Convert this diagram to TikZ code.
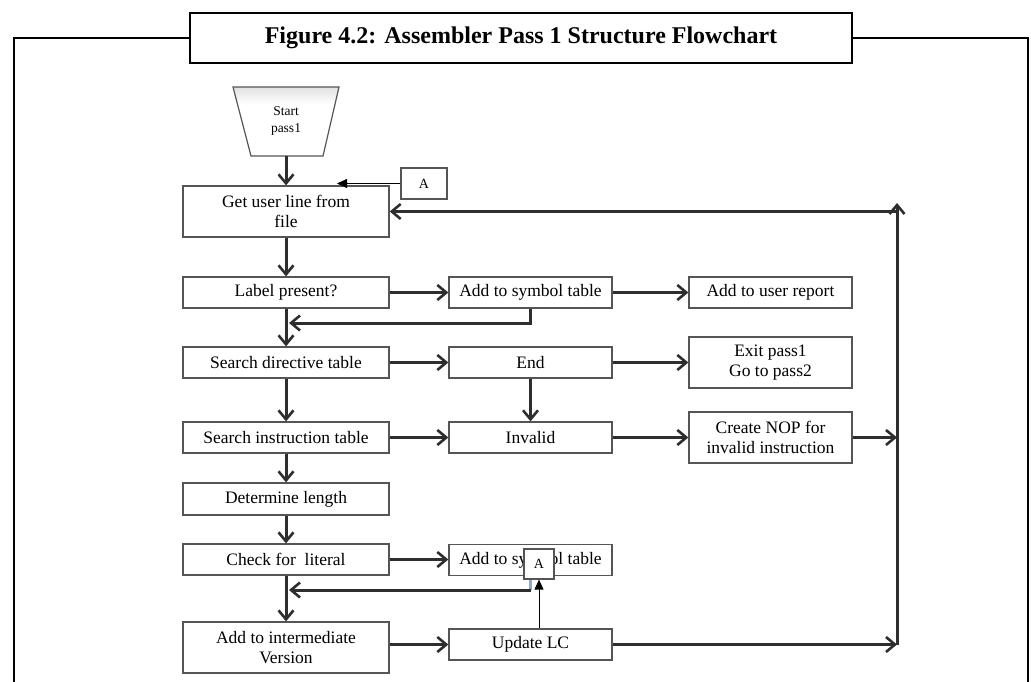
\documentclass[tikz,border=0pt]{standalone}
\usepackage{fontspec}
\setmainfont{Liberation Serif}
\usetikzlibrary{arrows.meta,calc,shapes.geometric}
\definecolor{boxline}{HTML}{555555}
\definecolor{arrowcol}{HTML}{2E2E2E}
\definecolor{tintblue}{HTML}{8FA9C8}
\tikzset{
  proc/.style={draw=boxline,line width=1.3pt,fill=white,rectangle,inner sep=1pt,
    minimum width=206pt,minimum height=31pt,align=center,font=\fontsize{17.5}{19.5}\selectfont},
  side/.style={proc,minimum width=163pt},
  conn/.style={draw=arrowcol,line width=3pt,-{Straight Barb[length=9pt,width=15pt,line width=2.6pt]}},
  thinarrow/.style={draw=black,line width=0.8pt,-{Triangle[length=10pt,width=9pt]}},
  abox/.style={draw=boxline,line width=1.1pt,fill=white,inner sep=0pt,font=\fontsize{14}{16}\selectfont}
}
\begin{document}
\begin{tikzpicture}[x=1pt,y=-1pt]
\useasboundingbox (0,0) rectangle (1031,682);
% outer frame and title
\draw[line width=2.8pt,black] (14,682) -- (14,38) -- (190,38);
\draw[line width=2.8pt,black] (852,38) -- (1028,38) -- (1028,682);
\node[draw=black,line width=2.8pt,minimum width=662pt,minimum height=50pt,inner sep=0pt,
  font=\bfseries\fontsize{24}{27}\selectfont] (title) at (521,38) {Figure 4.2: Assembler Pass 1 Structure Flowchart};
% start trapezoid
\shade[top color=black!12,bottom color=white] (233,87) -- (339,87) -- (335,104) -- (237,104) -- cycle;
\draw[boxline,line width=1.2pt] (233,87) -- (339,87) -- (323,156) -- (251,156) -- cycle;
\node[font=\fontsize{13.5}{17}\selectfont,align=center] (start) at (286,121) {Start\\pass1};
\coordinate (startb) at (286,156);
% main column
\node[proc,minimum height=51pt] (getuser) at (286,211.5) {Get user line from\\file};
\node[proc] (label) at (286,292.5) {Label present?};
\node[proc] (searchdir) at (286,362.5) {Search directive table};
\node[proc] (searchins) at (286,437.5) {Search instruction table};
\node[proc,minimum height=32pt] (determine) at (286,499) {Determine length};
\node[proc] (check) at (286,559.5) {Check for\ \ literal};
\node[proc,minimum height=51pt] (addint) at (286,647.5) {Add to intermediate\\Version};
% second column
\node[side] (addsym) at (530.5,292.5) {Add to symbol table};
\node[side] (end) at (530.5,362.5) {End};
\node[side] (invalid) at (530.5,437.5) {Invalid};
\node[side] (addsym2) at (530.5,560) {Add to symbol table};
\node[side] (update) at (530.5,644.5) {Update LC};
% third column
\node[side] (addrep) at (770.5,292.5) {Add to user report};
\node[side,minimum height=51pt] (exit) at (770.5,362.5) {Exit pass1\\Go to pass2};
\node[side,minimum height=51pt] (nop) at (770.5,437.5) {Create NOP for\\invalid instruction};
% A connectors
\node[abox,minimum width=46pt,minimum height=31pt] (atop) at (424,183.5) {A};
\coordinate (atarget) at (337,183.5);
\draw[thinarrow] (atop.west) -- (atarget);
% right bus
\coordinate (busnop) at (897,437.5);
\coordinate (busup) at (897,644.5);
\coordinate (bustop) at (897,203);
\coordinate (busget) at (897,211.5);
% main column arrows
\draw[conn] (startb) -- (getuser.north);
\draw[conn] (getuser) -- (label);
\draw[conn] (label) -- (searchdir);
\draw[conn] (searchdir) -- (searchins);
\draw[conn] (searchins) -- (determine);
\draw[conn] (determine) -- (check);
\draw[conn] (check) -- (addint);
% horizontal arrows
\draw[conn] (label) -- (addsym);
\draw[conn] (addsym) -- (addrep);
\draw[conn] (searchdir) -- (end);
\draw[conn] (end) -- (exit);
\draw[conn] (end) -- (invalid);
\draw[conn] (searchins) -- (invalid);
\draw[conn] (invalid) -- (nop);
\draw[conn] (nop) -- (busnop);
\draw[conn] (check.east) -- (check.east -| addsym2.west);
\draw[conn] (addint.east |- update) -- (update.west);
\draw[conn] (update) -- (busup);
% return arrows
\coordinate (ret1) at (286,323);
\draw[conn] (addsym.south) -- (addsym.south |- ret1) -- ([xshift=3pt]ret1);
\coordinate (ret2) at (286,590);
\draw[tintblue,line width=3pt] (addsym2.south) -- (addsym2.south |- ret2);
\draw[conn] (addsym2.south |- ret2) -- ([xshift=3pt]ret2);
% bus up and back
\draw[conn] (busup) -- (bustop);
\draw[conn] (busget) -- (getuser.east);
% lower A
\node[abox,minimum width=30pt,minimum height=30pt] (alow) at (539,564) {A};
\draw[thinarrow] (update.north -| alow) -- (alow.south);
\end{tikzpicture}
\end{document}
